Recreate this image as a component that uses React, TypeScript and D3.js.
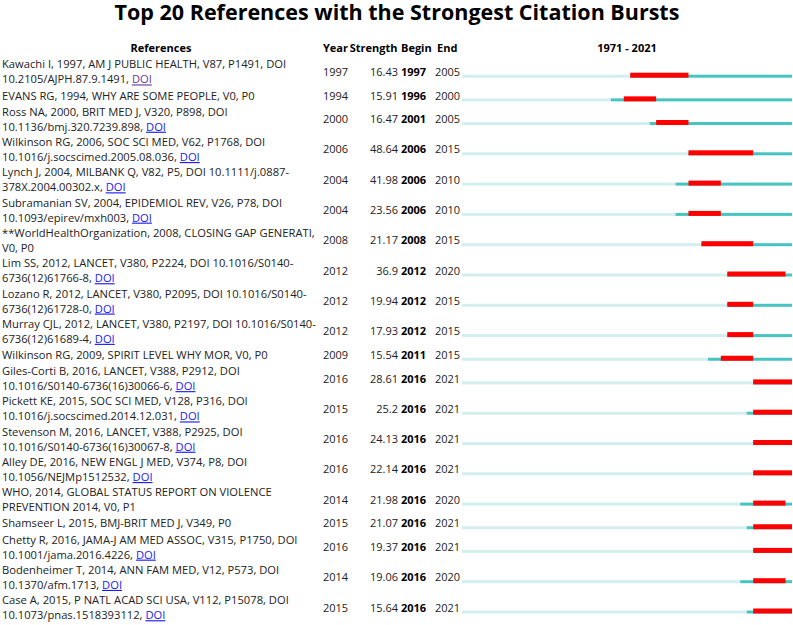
import React from "react";
import * as d3 from "d3";

const TITLE = "Top 20 References with the Strongest Citation Bursts";
const headers = ["References", "Year", "Strength", "Begin", "End", "1971 - 2021"];

const refLine1 = [
  "Kawachi I, 1997, AM J PUBLIC HEALTH, V87, P1491, DOI",
  "EVANS RG, 1994, WHY ARE SOME PEOPLE, V0, P0",
  "Ross NA, 2000, BRIT MED J, V320, P898, DOI",
  "Wilkinson RG, 2006, SOC SCI MED, V62, P1768, DOI",
  "Lynch J, 2004, MILBANK Q, V82, P5, DOI 10.1111/j.0887-",
  "Subramanian SV, 2004, EPIDEMIOL REV, V26, P78, DOI",
  "**WorldHealthOrganization, 2008, CLOSING GAP GENERATI,",
  "Lim SS, 2012, LANCET, V380, P2224, DOI 10.1016/S0140-",
  "Lozano R, 2012, LANCET, V380, P2095, DOI 10.1016/S0140-",
  "Murray CJL, 2012, LANCET, V380, P2197, DOI 10.1016/S0140-",
  "Wilkinson RG, 2009, SPIRIT LEVEL WHY MOR, V0, P0",
  "Giles-Corti B, 2016, LANCET, V388, P2912, DOI",
  "Pickett KE, 2015, SOC SCI MED, V128, P316, DOI",
  "Stevenson M, 2016, LANCET, V388, P2925, DOI",
  "Alley DE, 2016, NEW ENGL J MED, V374, P8, DOI",
  "WHO, 2014, GLOBAL STATUS REPORT ON VIOLENCE",
  "Shamseer L, 2015, BMJ-BRIT MED J, V349, P0",
  "Chetty R, 2016, JAMA-J AM MED ASSOC, V315, P1750, DOI",
  "Bodenheimer T, 2014, ANN FAM MED, V12, P573, DOI",
  "Case A, 2015, P NATL ACAD SCI USA, V112, P15078, DOI",
];
const refLine2 = [
  "10.2105/AJPH.87.9.1491, ",
  "",
  "10.1136/bmj.320.7239.898, ",
  "10.1016/j.socscimed.2005.08.036, ",
  "378X.2004.00302.x, ",
  "10.1093/epirev/mxh003, ",
  "V0, P0",
  "6736(12)61766-8, ",
  "6736(12)61728-0, ",
  "6736(12)61689-4, ",
  "",
  "10.1016/S0140-6736(16)30066-6, ",
  "10.1016/j.socscimed.2014.12.031, ",
  "10.1016/S0140-6736(16)30067-8, ",
  "10.1056/NEJMp1512532, ",
  "PREVENTION 2014, V0, P1",
  "",
  "10.1001/jama.2016.4226, ",
  "10.1370/afm.1713, ",
  "10.1073/pnas.1518393112, ",
];
const hasDoi = [1, 0, 1, 1, 1, 1, 0, 1, 1, 1, 0, 1, 1, 1, 1, 0, 0, 1, 1, 1];
const years = [1997, 1994, 2000, 2006, 2004, 2004, 2008, 2012, 2012, 2012, 2009, 2016, 2015, 2016, 2016, 2014, 2015, 2016, 2014, 2015];
const strengths = ["16.43", "15.91", "16.47", "48.64", "41.98", "23.56", "21.17", "36.9", "19.94", "17.93", "15.54", "28.61", "25.2", "24.13", "22.14", "21.98", "21.07", "19.37", "19.06", "15.64"];
const begins = [1997, 1996, 2001, 2006, 2006, 2006, 2008, 2012, 2012, 2012, 2011, 2016, 2016, 2016, 2016, 2016, 2016, 2016, 2016, 2016];
const ends = [2005, 2000, 2005, 2015, 2010, 2010, 2015, 2020, 2015, 2015, 2015, 2021, 2021, 2021, 2021, 2020, 2021, 2021, 2020, 2021];
const START_YEAR = 1971;
const END_YEAR = 2021;

const FONT = "'Open Sans', 'Noto Sans', sans-serif";

export default function App() {
  const W = 793, H = 625;
  const x = d3.scaleLinear().domain([START_YEAR, END_YEAR + 1]).range([462, 792]);

  // row centers
  const h1 = 17, h2 = 30.3;
  const centers: number[] = [];
  let c = 72;
  refLine1.forEach((_, i) => {
    if (i > 0) {
      const hp = refLine2[i - 1] ? h2 : h1;
      const hc = refLine2[i] ? h2 : h1;
      c += (hp + hc) / 2;
    }
    centers.push(c);
  });

  const fs = 11.2;
  const txt = "#222";

  return (
    <svg width={W} height={H} style={{ position: "absolute", left: 0, top: 0, background: "#fff" }} fontFamily={FONT}>
      <text x={397} y={20} textAnchor="middle" fontSize={21.5} fontWeight="bold" fill="#000">{TITLE}</text>
      <g fontSize={11} fontWeight="bold" fill="#000">
        <text x={161} y={48} dy="0.35em" textAnchor="middle">{headers[0]}</text>
        <text x={323} y={48} dy="0.35em">{headers[1]}</text>
        <text x={397.5} y={48} dy="0.35em" textAnchor="end">{headers[2]}</text>
        <text x={401} y={48} dy="0.35em">{headers[3]}</text>
        <text x={437} y={48} dy="0.35em">{headers[4]}</text>
        <text x={(x.range()[0] + x.range()[1]) / 2} y={48} dy="0.35em" textAnchor="middle">{headers[5]}</text>
      </g>
      {refLine1.map((l1, i) => {
        const cy = centers[i];
        const two = !!refLine2[i];
        const yb = cy + 5.7;
        const doiColor = i === 0 ? "#6a3a9e" : "#1a1aee";
        return (
          <g key={i} fontSize={fs} fill={txt}>
            <text x={2} y={two ? cy - 7.5 : cy} dy="0.35em">{l1}</text>
            {two && (
              <text x={2} y={cy + 7.5} dy="0.35em" style={{ whiteSpace: "pre" }}>
                {refLine2[i]}
                {hasDoi[i] ? <tspan fill={doiColor} textDecoration="underline">DOI</tspan> : null}
              </text>
            )}
            <text x={323} y={cy} dy="0.35em" fontSize={11}>{years[i]}</text>
            <text x={398} y={cy} dy="0.35em" fontSize={11} textAnchor="end">{strengths[i]}</text>
            <text x={401} y={cy} dy="0.35em" fontSize={11} fontWeight="bold" fill="#000">{begins[i]}</text>
            <text x={435} y={cy} dy="0.35em" fontSize={11}>{ends[i]}</text>
            <rect x={x(START_YEAR)} y={yb - 3} width={x(years[i]) - x(START_YEAR)} height={3} fill="#d3eeee" />
            <rect x={x(years[i])} y={yb - 3} width={x(END_YEAR + 1) - x(years[i])} height={3} fill="#46c4c2" />
            <rect x={x(begins[i])} y={yb - 5} width={x(ends[i] + 1) - x(begins[i])} height={5} fill="#ff0000" />
          </g>
        );
      })}
    </svg>
  );
}
